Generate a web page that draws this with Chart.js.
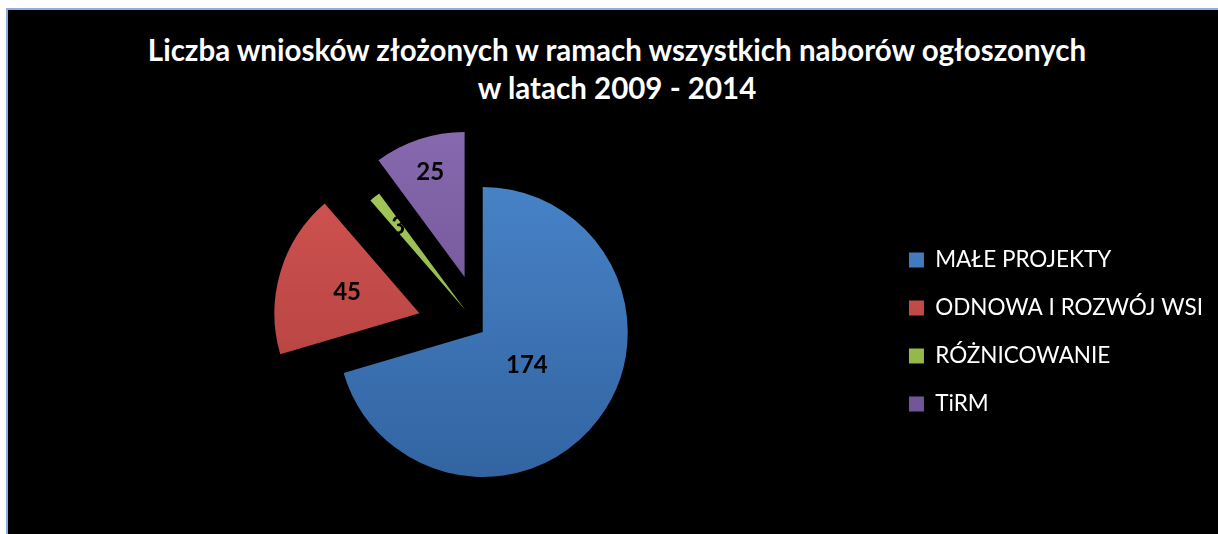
<!DOCTYPE html>
<html>
<head>
<meta charset="utf-8">
<script src="https://cdn.jsdelivr.net/npm/chart.js@4.4.1/dist/chart.umd.min.js"></script>
<style>
  body { margin: 0; background: #fff; }
  #panel {
    position: absolute; left: 6px; top: 8px; right: 0; bottom: 0;
    background: #000;
    border-top: 2px solid #8eaee0;
    border-left: 2px solid #8eaee0;
  }
  #title {
    position: absolute; left: 16px; right: 0; top: 31px;
    text-align: center; color: #fff;
    font: bold 29.5px Lato, sans-serif; line-height: 38px;
  }
  canvas { position: absolute; left: 0; top: 0; }
</style>
</head>
<body>
<div id="panel"></div>
<div id="title">Liczba wniosków złożonych w ramach wszystkich naborów ogłoszonych<br>w latach 2009 - 2014</div>
<canvas id="myChart" width="1218" height="534"></canvas>
<script>
const categories = ["MAŁE PROJEKTY", "ODNOWA I ROZWÓJ WSI", "RÓŻNICOWANIE", "TiRM"];
const values = [174, 45, 3, 25];
const colorsTop = ["#4a86cc", "#d65654", "#a8cc5c", "#8a6cb2"];
const colorsBottom = ["#2f609c", "#a83c3a", "#84a940", "#674c8c"];
// wysunięcie kawałków w px
const explode = [0, 66, 28, 58];
// gdzie stoi podpis (część promienia od wierzchołka kawałka)
const labelPos = [0.38, 0.52, 0.74, 0.76];

function sliceColor(c) {
  const area = c.chart.chartArea;
  if (!area) return colorsTop[c.dataIndex];
  const g = c.chart.ctx.createLinearGradient(0, area.top, 0, area.bottom);
  g.addColorStop(0, colorsTop[c.dataIndex]);
  g.addColorStop(1, colorsBottom[c.dataIndex]);
  return g;
}

// rysuje kawałki przesunięte (bez poprawki promienia, którą robi chart.js przy offset)
const explodeSlices = {
  id: "explodeSlices",
  beforeDatasetDraw(chart, args) {
    const ctx = chart.ctx;
    args.meta.data.forEach((arc, i) => {
      const mid = (arc.startAngle + arc.endAngle) / 2;
      ctx.save();
      ctx.translate(Math.cos(mid) * explode[i], Math.sin(mid) * explode[i]);
      arc.draw(ctx);
      ctx.restore();
    });
    return false;
  },
};

// podpisy wartości na kawałkach
const valueLabels = {
  id: "valueLabels",
  afterDatasetsDraw(chart) {
    const ctx = chart.ctx;
    const arcs = chart.getDatasetMeta(0).data;
    ctx.save();
    ctx.font = "bold 24px Lato, sans-serif";
    ctx.fillStyle = "#000";
    ctx.textAlign = "center";
    ctx.textBaseline = "middle";
    arcs.forEach((arc, i) => {
      const mid = (arc.startAngle + arc.endAngle) / 2;
      const d = explode[i] + arc.outerRadius * labelPos[i];
      ctx.fillText(values[i], arc.x + Math.cos(mid) * d, arc.y + Math.sin(mid) * d);
    });
    ctx.restore();
  },
};

function drawChart() {
  const ctx = document.getElementById("myChart");
  new Chart(ctx, {
    type: "pie",
    data: {
      labels: categories,
      datasets: [
        {
          data: values,
          backgroundColor: sliceColor,
          borderWidth: 0,
          radius: 145,
        },
      ],
    },
    options: {
      responsive: false,
      animation: false,
      devicePixelRatio: 1,
      layout: { padding: { left: 82, right: 5, top: 146, bottom: 16 } },
      plugins: {
        title: { display: false },
        tooltip: { enabled: false },
        legend: {
          position: "right",
          labels: {
            color: "#fff",
            font: { family: "Lato", size: 22.5 },
            boxWidth: 15,
            boxHeight: 15,
            padding: 25.5,
          },
        },
      },
    },
    plugins: [explodeSlices, valueLabels],
  });
}

Promise.all([
  document.fonts.load("bold 24px Lato"),
  document.fonts.load("22.5px Lato"),
]).then(drawChart, drawChart);
</script>
</body>
</html>
